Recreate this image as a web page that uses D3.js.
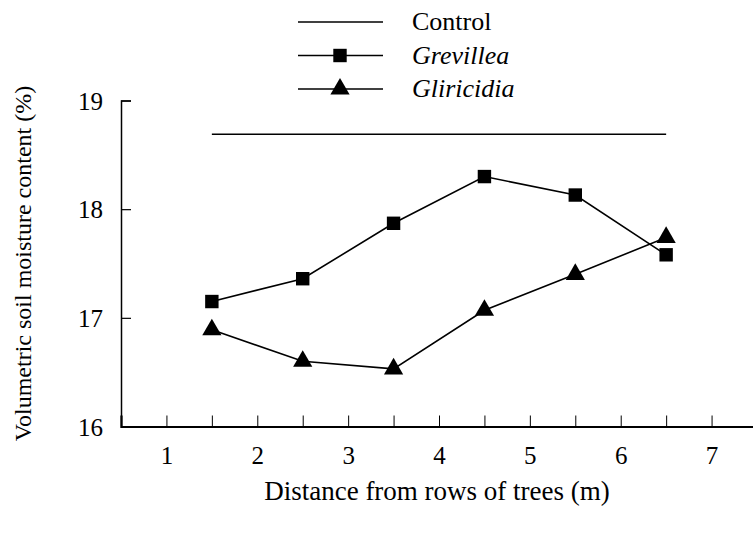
<!DOCTYPE html>
<html>
<head>
<meta charset="utf-8">
<script src="https://cdn.jsdelivr.net/npm/d3@7"></script>
<style>
  body { margin: 0; background: #fff; }
  svg text { font-family: "Liberation Serif", "Times New Roman", serif; fill: #000; }
</style>
</head>
<body>
<div id="chart"></div>
<script>
// data
const distance = [1.5, 2.5, 3.5, 4.5, 5.5, 6.5];
const control = [18.69, 18.69, 18.69, 18.69, 18.69, 18.69];
const grevillea = [17.15, 17.36, 17.87, 18.3, 18.13, 17.58];
const gliricidia = [16.89, 16.6, 16.53, 17.07, 17.4, 17.74];
const xTicks = [1, 2, 3, 4, 5, 6, 7];
const yTicks = [16, 17, 18, 19];

const WIDTH = 753;
const HEIGHT = 533;
const FONT = "Liberation Serif";

const svg = d3.select("#chart")
  .append("svg")
  .attr("width", WIDTH)
  .attr("height", HEIGHT);

const x = d3.scaleLinear().domain([0.5, 7.5]).range([121, 757]);
const y = d3.scaleLinear().domain([16, 19]).range([426.5, 100.5]);

// x axis: ticks every 0.5, pointing up
const xAxis = d3.axisBottom(x)
  .tickValues(d3.range(1, 7.51, 0.5))
  .tickSize(-11)
  .tickFormat(d => xTicks.includes(d) ? d : "");

const gx = svg.append("g")
  .attr("transform", `translate(0,${y(16)})`)
  .call(xAxis)
  .attr("font-family", FONT);
gx.select(".domain").attr("stroke", "#000").attr("stroke-width", 2.2);
gx.selectAll(".tick line").attr("stroke", "#000").attr("stroke-width", 1);
gx.selectAll(".tick text")
  .attr("font-size", 25)
  .attr("dy", 0)
  .attr("y", 37);

// y axis: ticks pointing right
const yAxis = d3.axisLeft(y)
  .tickValues(yTicks)
  .tickSize(-10)
  .tickPadding(18)
  .tickFormat(d3.format("d"));

const gy = svg.append("g")
  .attr("transform", `translate(${x(0.5)},0)`)
  .call(yAxis)
  .attr("font-family", FONT);
gy.select(".domain").attr("stroke", "#000").attr("stroke-width", 1.5);
gy.selectAll(".tick line").attr("stroke", "#000").attr("stroke-width", 1.2);
gy.selectAll(".tick text").attr("font-size", 25).attr("dy", "0.34em");

// axis titles
svg.append("text")
  .attr("transform", `translate(31,${(y(16) + y(19)) / 2}) rotate(-90)`)
  .attr("text-anchor", "middle")
  .attr("font-family", FONT)
  .attr("font-size", 24)
  .text("Volumetric soil moisture content (%)");

svg.append("text")
  .attr("x", 437)
  .attr("y", 500)
  .attr("text-anchor", "middle")
  .attr("font-family", FONT)
  .attr("font-size", 27)
  .text("Distance from rows of trees (m)");

// series
const series = [
  { name: "Control", values: control, marker: null, italic: false },
  { name: "Grevillea", values: grevillea, marker: d3.symbolSquare, italic: true },
  { name: "Gliricidia", values: gliricidia, marker: d3.symbolTriangle, italic: true }
];

const markerSize = m => m === d3.symbolSquare ? 180 : 160;

const line = d3.line()
  .x((d, i) => x(distance[i]))
  .y(d => y(d));

series.forEach(s => {
  svg.append("path")
    .datum(s.values)
    .attr("d", line)
    .attr("fill", "none")
    .attr("stroke", "#000")
    .attr("stroke-width", 1.6);

  if (s.marker) {
    svg.append("g")
      .selectAll("path")
      .data(s.values)
      .enter()
      .append("path")
      .attr("transform", (d, i) => `translate(${x(distance[i])},${y(d)})`)
      .attr("d", d3.symbol().type(s.marker).size(markerSize(s.marker)))
      .attr("fill", "#000");
  }
});

// legend
const legend = svg.append("g");
series.forEach((s, i) => {
  const ly = 22 + i * 33.5;
  legend.append("line")
    .attr("x1", 298)
    .attr("x2", 383)
    .attr("y1", ly)
    .attr("y2", ly)
    .attr("stroke", "#000")
    .attr("stroke-width", 1.6);
  if (s.marker) {
    legend.append("path")
      .attr("transform", `translate(340,${ly})`)
      .attr("d", d3.symbol().type(s.marker).size(markerSize(s.marker)))
      .attr("fill", "#000");
  }
  legend.append("text")
    .attr("x", 412)
    .attr("y", ly + 8)
    .attr("font-family", FONT)
    .attr("font-size", 26)
    .attr("font-style", s.italic ? "italic" : "normal")
    .text(s.name);
});
</script>
</body>
</html>
